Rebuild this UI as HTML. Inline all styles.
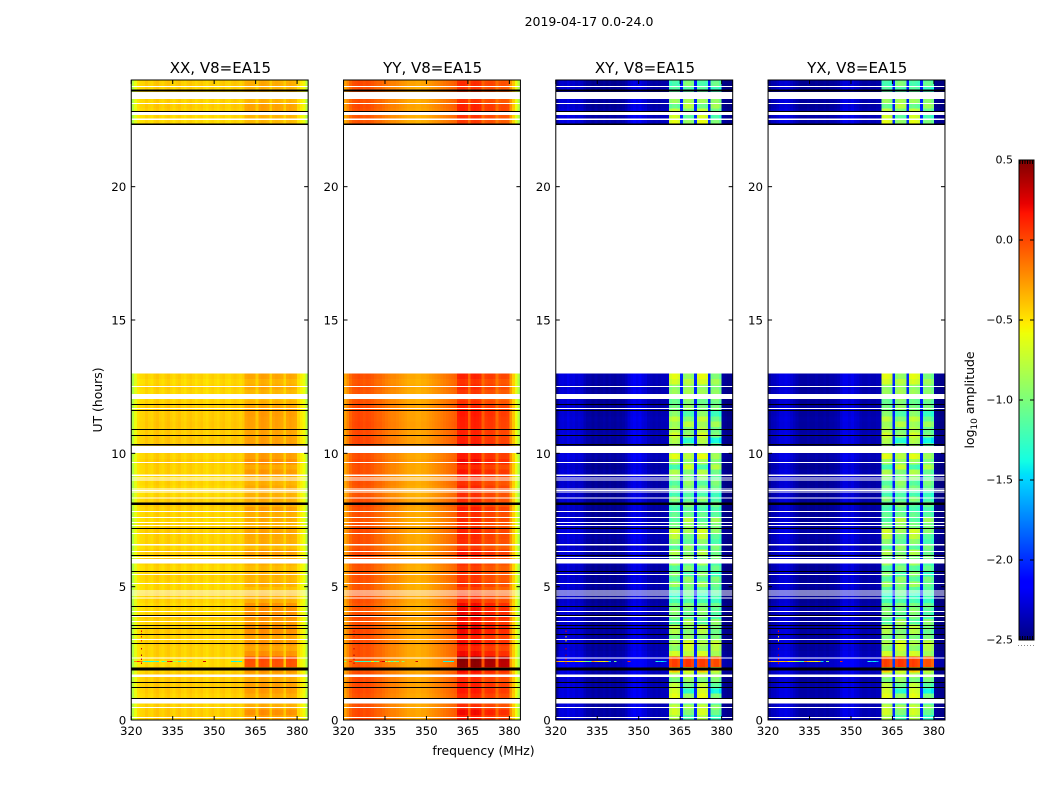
<!DOCTYPE html>
<html lang="en">
<head>
<meta charset="utf-8">
<title>2019-04-17 amplitude waterfall</title>
<style>
  html, body { margin: 0; padding: 0; background: #fff; }
  svg { display: block; }
  text { font-family: "DejaVu Sans", "Liberation Sans", sans-serif; fill: #000; }
  .tick-label { font-size: 11.8px; }
  .panel-title { font-size: 15px; text-anchor: middle; }
  .axis-label { font-size: 12.4px; }
</style>
</head>
<body>
<svg id="figure" xmlns="http://www.w3.org/2000/svg" width="1050" height="800" viewBox="0 0 1050 800">
  <rect x="0" y="0" width="1050" height="800" fill="#fff"/>
  <text x="589" y="26" font-size="12.5" text-anchor="middle">2019-04-17 0.0-24.0</text>
  <text class="axis-label" transform="translate(102,400) rotate(-90)" text-anchor="middle">UT (hours)</text>
  <text class="axis-label" x="483.5" y="755" text-anchor="middle">frequency (MHz)</text>
  <text class="axis-label" transform="translate(974,400) rotate(-90)" text-anchor="middle">log<tspan font-size="9" dy="3">10</tspan><tspan dy="-3"> amplitude</tspan></text>
  <g id="panels"></g>
  <g id="colorbar"></g>
</svg>
<script>
// ---- Categories and ticks ----
const panelNames = ["XX, V8=EA15", "YY, V8=EA15", "XY, V8=EA15", "YX, V8=EA15"];
const freqTicks = [320, 335, 350, 365, 380];
const hourTicks = [0, 5, 10, 15, 20];
const colorTicks = [0.5, 0, -0.5, -1, -1.5, -2, -2.5];
const colorTickLabels = ["0.5", "0.0", "\u22120.5", "\u22121.0", "\u22121.5", "\u22122.0", "\u22122.5"];

// ---- Channel profiles: log10 amplitude per 1 MHz channel, 320..383 MHz ----
const profileXX = [-.8,-.62,-.5,-.47,-.46,-.42,-.45,-.47,-.42,-.4,-.44,-.46,-.42,-.4,-.44,-.47,-.43,-.41,-.45,-.47,-.43,-.41,-.44,-.47,-.44,-.42,-.46,-.48,-.44,-.42,-.45,-.47,-.43,-.41,-.45,-.46,-.43,-.41,-.43,-.45,-.42,-.38,-.36,-.37,-.38,-.43,-.36,-.34,-.35,-.37,-.44,-.38,-.36,-.37,-.39,-.44,-.38,-.36,-.38,-.4,-.47,-.53,-.58,-.8];
const profileYY = [-.3,-.2,-.1,-.04,-.02,0,-.02,-.04,-.02,-.03,-.05,-.08,-.1,-.1,-.13,-.16,-.18,-.2,-.2,-.22,-.24,-.26,-.28,-.3,-.3,-.3,-.32,-.32,-.3,-.3,-.28,-.26,-.24,-.22,-.2,-.18,-.16,-.14,-.12,-.1,-.08,.02,.04,.04,.02,-.1,.02,.04,.03,.01,-.1,-.06,-.04,-.04,-.06,-.14,-.1,-.08,-.08,-.1,-.25,-.42,-.6,-.8];
const profileXY = [-2.45,-2.3,-2.28,-2.3,-2.25,-2.3,-2.28,-2.32,-2.3,-2.32,-2.38,-2.42,-2.42,-2.45,-2.42,-2.45,-2.44,-2.42,-2.45,-2.42,-2.44,-2.45,-2.42,-2.44,-2.42,-2.38,-2.3,-2.25,-2.22,-2.25,-2.22,-2.28,-2.3,-2.36,-2.38,-2.4,-2.38,-2.4,-2.38,-2.38,-2.36,-1.12,-1.06,-1.06,-1.12,-2.05,-1.08,-1.02,-1.02,-1.08,-2.05,-1.1,-1.05,-1.05,-1.1,-2.05,-1.15,-1.1,-1.1,-1.2,-2.45,-2.48,-2.5,-2.5];
const profileYX = [-2.45,-2.38,-2.36,-2.32,-2.28,-2.28,-2.26,-2.28,-2.32,-2.36,-2.4,-2.44,-2.44,-2.44,-2.42,-2.44,-2.44,-2.42,-2.44,-2.44,-2.42,-2.44,-2.42,-2.42,-2.4,-2.38,-2.3,-2.25,-2.25,-2.28,-2.25,-2.3,-2.32,-2.38,-2.4,-2.4,-2.38,-2.4,-2.4,-2.38,-2.38,-1.1,-1.06,-1.08,-1.14,-2.05,-1.08,-1.02,-1.04,-1.08,-2.05,-1.08,-1.05,-1.08,-1.12,-2.05,-1.15,-1.12,-1.12,-1.2,-2.45,-2.48,-2.5,-2.5];
const profiles = [profileXX, profileYY, profileXY, profileYX];

// Per-channel weights of the band-limited signal
const parallelMask = [0,0,0,0,0,0,0,0,0,0,0,0,0,0,0,0,0,0,0,0,0,0,0,0,0,0,0,0,0,0,0,0,0,0,0,0,0,0,0,0,0,1,1,1,1,.2,1,1,1,1,.2,1,1,1,1,.2,1,1,1,1,0,0,0,0];
const crossMaskA = [0,0,0,0,0,0,0,0,0,0,0,0,0,0,0,0,0,0,0,0,0,0,0,0,0,0,0,0,0,0,0,0,0,0,0,0,0,0,0,0,0,1,1,1,1,0,0,0,0,0,0,1,1,1,1,0,0,0,0,0,0,0,0,0];
const crossMaskB = [0,0,0,0,0,0,0,0,0,0,0,0,0,0,0,0,0,0,0,0,0,0,0,0,0,0,0,0,0,0,0,0,0,0,0,0,0,0,0,0,0,0,0,0,0,0,1,1,1,1,0,0,0,0,0,0,1,1,1,1,0,0,0,0];
const panelRfiScale = [0.6, 0.75];

// ---- Time structure: observed blocks [start, end] in hours, sampled every rowStep ----
const scanBlocks = [[0, 13], [22.35, 24]];
const rowStep = 0.2;

// Row offsets, 5 values per hour for 0-13 h, then the 9 rows of the late block
const rowLevel = [.02,.02,0,0,0, .02,.02,.02,.02,0, -.02,-.02,0,0,.02, 0,.02,0,0,.02, -.02,-.02,0,0,-.02, -.02,0,0,-.02,0, 0,.02,-.02,0,0, .02,0,-.02,0,0, .02,0,-.02,-.02,0, -.02,0,0,.02,0, .02,.03,.03,.02,.02, .03,.02,.02,.02,0, -.02,-.02,0,-.02,0, -.02,-.02,0,.02,0,-.02,0,.02,0];
const rfiLevel = [.12,.2,.08,.05,.1, .14,.12,.06,.1,.2, .6,.62,.22,.12,.18, .14,.2,.24,.18,.2, .26,.24,.08,.04,.02, .1,.04,.06,.03,.06, .08,.12,.04,.08,.1, .1,.06,.12,.08,.14, .04,.08,.1,.14,.06, .12,.18,.1,.2,.16, .12,.14,.1,.1,.1, .1,.12,.14,.1,.06, .02,.06,.1,.08,.12, .05,.08,.12,.1,.05,.08,.04,.06,.02];
const crossRowA = [.2,.3,.25,.1,.35, .3,.25,.05,.2,.5, .85,.85,.3,.1,.2, .05,.2,.25,-.05,.05, .1,.05,-.1,-.15,-.05, .15,-.05,.1,-.05,.15, .05,.2,-.05,.1,.25, .3,.05,-.05,0,-.1, -.05,.1,-.1,.05,-.05, .1,.2,-.1,.15,.35, .1,.15,.2,.3,.2, .15,.25,.1,.05,0, 0,.15,.1,.3,.35, .35,.3,.25,0,.15,.2,-.05,-.1,-.05];
const crossRowB = [-.1,.05,.15,-.1,.1, -.2,0,.1,.2,.3, .85,.85,.2,.25,.3, .1,.05,.1,.15,-.05, 0,.05,-.1,-.05,0, .05,.1,-.1,.05,-.05, .1,.05,.1,-.05,0, .15,.1,.2,0,-.05, .05,-.05,-.1,.05,.1, 0,.05,.25,.1,.2, .1,0,-.2,.1,.05, .2,.05,-.1,.1,.05, .1,.15,.1,.2,.1, .1,-.05,.05,.2,.15,.1,-.1,.05,0];

// Flagged intervals (white) [start, end] in hours
const gapIntervals = [[.085,.12],[.46,.495],[.61,.79],[1.62,1.71],[2.30,2.335],[3.01,3.045],[3.685,3.72],[3.87,3.905],[4.06,4.095],[4.55,4.585],[4.68,4.715],[4.755,4.79],[4.83,4.865],[5.11,5.145],[5.445,5.48],[5.86,6.03],[6.085,6.12],[6.31,6.345],[6.55,6.595],[6.985,7.02],[7.27,7.305],[7.385,7.42],[7.585,7.62],[7.81,7.845],[8.30,8.335],[8.525,8.56],[8.595,8.63],[8.655,8.69],[8.985,9.02],[9.06,9.09],[9.15,9.2],[9.645,9.68],[10.02,10.275],[11.67,11.705],[12.04,12.225],[12.495,12.53],[22.5,22.555],[22.69,22.8],[23.1,23.14],[23.29,23.55],[23.74,23.775]];
// Scan boundaries (black) [hour, duration in hours]
const flagLines = [[.814,.04],[1.226,.04],[1.414,.04],[1.92,.11],[2.876,.04],[3.214,.04],[3.439,.04],[3.551,.04],[3.911,.04],[4.264,.04],[5.576,.04],[6.176,.04],[7.189,.04],[8.11,.1],[10.324,.07],[10.676,.04],[10.9,.04],[11.614,.04],[11.839,.04],[22.34,.04],[22.826,.04],[23.6,.08]];

// Narrow interference at about 2.2 h
const lineHour = 2.21;
const lineChannels = [320,321,322,323,324,325,326,327,328,329,330,331,332,333,334,335,336,337,338,339,341,346,356,357,358,359];
const lineParallel = [-.9,-.2,.1,-.1,-1.2,-1.3,-1.3,-1.3,-1.2,-1.3,-.6,-1.2,-.9,.1,.3,-.9,-.7,-1.2,-.8,-1.1,-.9,.3,-1.4,-1.4,-1.3,-1.4];
const lineCross = [-.2,-.4,-.4,-.3,-.4,-.4,-.3,-.5,-.5,-.6,-.8,-1.0,-1.2,-.2,-.4,-.5,-.5,-.6,-.4,-1.5,-1.0,.1,-1.3,-1.5,-1.4,-1.6];
// Isolated bright samples near 323 MHz
const dotFreq = 323.6;
const dotHours = [2.15,2.3,2.45,2.7,3.0,3.15,3.25,3.35];
const dotParallel = [.3,.3,.4,.3,.1,.1,.3,.2];
const dotCross = [.3,.3,.4,.3,-.5,-.5,.3,.2];

// ---- Layout ----
const SVGNS = "http://www.w3.org/2000/svg";
const axTop = 80, axBottom = 720, axWidth = 176.9, axPitch = 212.27, axLeft0 = 131.25;
const freqMin = 320, freqMax = 384, hourMax = 24;
const cbLeft = 1019, cbRight = 1034, cbTop = 160, cbBottom = 640, cbMin = -2.5, cbMax = 0.5;

function panelLeft(p) { return axLeft0 + p * axPitch; }
function xScale(p, mhz) { return panelLeft(p) + (mhz - freqMin) / (freqMax - freqMin) * axWidth; }
function yScale(hour) { return axBottom - hour / hourMax * (axBottom - axTop); }
function cbScale(v) { return cbBottom - (v - cbMin) / (cbMax - cbMin) * (cbBottom - cbTop); }

function piece(t, pts) {
  if (t <= pts[0][0]) return pts[0][1];
  for (let i = 1; i < pts.length; i++) {
    if (t <= pts[i][0]) {
      const a = pts[i - 1], b = pts[i];
      return a[1] + (t - a[0]) / (b[0] - a[0]) * (b[1] - a[1]);
    }
  }
  return pts[pts.length - 1][1];
}
function jet(v) {
  const t = Math.max(0, Math.min(1, (v - cbMin) / (cbMax - cbMin)));
  const r = piece(t, [[.35,0],[.66,1],[.89,1],[1,.5]]);
  const g = piece(t, [[.125,0],[.375,1],[.64,1],[.91,0]]);
  const b = piece(t, [[0,.5],[.11,1],[.34,1],[.65,0]]);
  return "rgb(" + Math.round(r * 255) + "," + Math.round(g * 255) + "," + Math.round(b * 255) + ")";
}
function makeRect(parent, x, y, w, h, fill) {
  const el = document.createElementNS(SVGNS, "rect");
  el.setAttribute("x", x);
  el.setAttribute("y", y);
  el.setAttribute("width", w);
  el.setAttribute("height", h);
  el.setAttribute("fill", fill);
  parent.appendChild(el);
  return el;
}
function makeLine(parent, x1, y1, x2, y2) {
  const el = document.createElementNS(SVGNS, "line");
  el.setAttribute("x1", x1);
  el.setAttribute("y1", y1);
  el.setAttribute("x2", x2);
  el.setAttribute("y2", y2);
  el.setAttribute("stroke", "#000");
  el.setAttribute("stroke-width", "1");
  parent.appendChild(el);
  return el;
}
function makeText(parent, x, y, str, cls, anchor) {
  const el = document.createElementNS(SVGNS, "text");
  el.setAttribute("x", x);
  el.setAttribute("y", y);
  el.setAttribute("class", cls);
  if (anchor) el.setAttribute("text-anchor", anchor);
  el.textContent = str;
  parent.appendChild(el);
  return el;
}

function cellValue(p, c, r) {
  const base = profiles[p][c];
  if (p < 2) return base + rowLevel[r] + parallelMask[c] * rfiLevel[r] * panelRfiScale[p];
  const m = crossMaskA[c] * crossRowA[r] + crossMaskB[c] * crossRowB[r];
  const inBlock = crossMaskA[c] + crossMaskB[c] > 0;
  return base + (inBlock ? m * 1.3 : crossRowA[r] * 0.12);
}

function drawPanel(p) {
  const root = document.getElementById("panels");
  const g = document.createElementNS(SVGNS, "g");
  
  
  root.appendChild(g);

  const cells = document.createElementNS(SVGNS, "g");
  
  
  cells.setAttribute("shape-rendering", "crispEdges");
  g.appendChild(cells);

  let r = 0;
  scanBlocks.forEach(function (block) {
    for (let h = block[0]; h < block[1] - 1e-6; h += rowStep) {
      const end = Math.min(h + rowStep, block[1]);
      const y = yScale(end), ht = yScale(h) - y;
      for (let c = 0; c < profiles[p].length; c++) {
        const x = xScale(p, freqMin + c);
        const w = xScale(p, freqMin + c + 1) - x;
        const cell = makeRect(cells, x.toFixed(2), y.toFixed(2), (w + 0.3).toFixed(2), (ht + 0.3).toFixed(2), jet(cellValue(p, c, r)));
        
        
      }
      r++;
    }
  });

  lineChannels.forEach(function (ch, i) {
    const x = xScale(p, ch);
    const val = p < 2 ? lineParallel[i] : lineCross[i];
    const seg = makeRect(cells, x.toFixed(2), yScale(lineHour).toFixed(2), (xScale(p, ch + 1) - x).toFixed(2), 1, jet(val));
    
    
  });
  dotHours.forEach(function (h, i) {
    const val = p < 2 ? dotParallel[i] : dotCross[i];
    const dot = makeRect(cells, xScale(p, dotFreq).toFixed(2), yScale(h).toFixed(2), 1, 1.5, jet(val));
    
    
  });

  const overlays = document.createElementNS(SVGNS, "g");
  
  
  overlays.setAttribute("shape-rendering", "crispEdges");
  g.appendChild(overlays);

  gapIntervals.forEach(function (gap) {
    const y = yScale(gap[1]);
    const el = makeRect(overlays, panelLeft(p), y.toFixed(2), axWidth, Math.max(1, yScale(gap[0]) - y).toFixed(2), "#fff");
    
    
  });
  flagLines.forEach(function (fl) {
    const y = yScale(fl[0] + fl[1] / 2);
    const el = makeRect(overlays, panelLeft(p), y.toFixed(2), axWidth, Math.max(1, fl[1] / hourMax * (axBottom - axTop)).toFixed(2), "#000");
    
    
  });

  const frame = makeRect(g, panelLeft(p), axTop, axWidth, axBottom - axTop, "none");
  frame.setAttribute("stroke", "#000");
  frame.setAttribute("stroke-width", "1");
  
  

  freqTicks.forEach(function (f) {
    const x = xScale(p, f);
    const t1 = makeLine(g, x, axBottom, x, axBottom - 4);
    
    
    const t2 = makeLine(g, x, axTop, x, axTop + 4);
    
    
    const lab = makeText(g, x, 735, String(f), "tick-label", "middle");
    
    
  });
  hourTicks.forEach(function (h) {
    const y = yScale(h);
    const right = panelLeft(p) + axWidth;
    const t1 = makeLine(g, panelLeft(p), y, panelLeft(p) + 4, y);
    
    
    const t2 = makeLine(g, right, y, right - 4, y);
    
    
    const lab = makeText(g, panelLeft(p) - 5, y + 4.5, String(h), "tick-label", "end");
    
    
  });

  const title = makeText(g, panelLeft(p) + axWidth / 2 + 0.7, 73, panelNames[p], "panel-title");
  
  
}

function drawColorbar() {
  const g = document.getElementById("colorbar");
  const ramp = document.createElementNS(SVGNS, "g");
  ramp.setAttribute("shape-rendering", "crispEdges");
  
  
  g.appendChild(ramp);
  const steps = 240;
  for (let i = 0; i < steps; i++) {
    const v0 = cbMin + (cbMax - cbMin) * i / steps;
    const v1 = cbMin + (cbMax - cbMin) * (i + 1) / steps;
    const s = makeRect(ramp, cbLeft, cbScale(v1), cbRight - cbLeft, cbScale(v0) - cbScale(v1) + 0.5, jet((v0 + v1) / 2));
    
    
  }
  const frame = makeRect(g, cbLeft, cbTop, cbRight - cbLeft, cbBottom - cbTop, "none");
  frame.setAttribute("stroke", "#000");
  frame.setAttribute("stroke-width", "1");
  
  

  colorTicks.forEach(function (v, i) {
    const y = cbScale(v);
    const a = makeLine(g, cbLeft, y, cbLeft + 4, y);
    
    
    const b = makeLine(g, cbRight, y, cbRight - 4, y);
    
    
    const lab = makeText(g, 1013, y + 3.5, colorTickLabels[i], "tick-label", "end");
    lab.setAttribute("font-size", "11");
    lab.style.fontSize = "11px";
    
    
  });

  for (let k = 0; k < 6; k++) {
    const x = cbLeft + 2.5 * (k + 0.4);
    const top = makeLine(g, x, cbTop, x, cbTop + 4);
    
    
    const bot = makeLine(g, x, cbBottom, x, cbBottom - 4);
    
    
  }
  for (let k = 0; k < 6; k++) {
    const dot = makeRect(g, 1018 + k * 3, 645, 1, 1, "#888");
    
    
  }
}

panelNames.forEach(function (_, p) { drawPanel(p); });
drawColorbar();
</script>
</body>
</html>
